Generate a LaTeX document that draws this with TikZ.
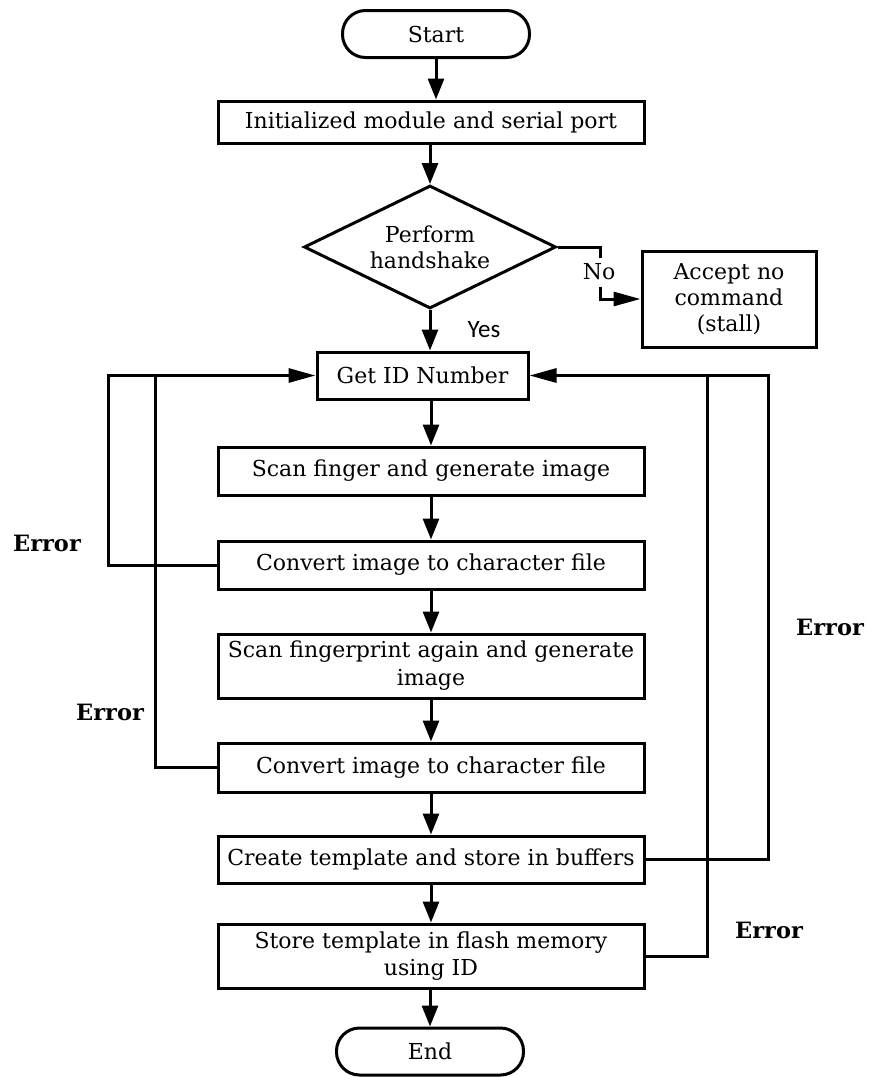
\documentclass[tikz,border=0pt]{standalone}
\usepackage{fontspec}
\setmainfont{DejaVu Serif}
\newfontfamily\yesfont{Carlito}
\usetikzlibrary{shapes.geometric,arrows.meta}
\begin{document}
\begin{tikzpicture}[x=1pt,y=-1pt,
 base/.style={draw=black, line width=3pt, align=center, inner sep=0pt, font=\fontsize{22}{26}\selectfont},
 procbox/.style={base, rectangle, minimum width=426pt},
 term/.style={base, rectangle, rounded corners=23pt, minimum width=187pt, minimum height=47pt},
 decision/.style={base, diamond, aspect=2, minimum width=252pt, minimum height=123pt},
 flow/.style={line width=3pt},
 varrow/.style={flow, -{Triangle[length=21pt,width=16pt]}},
 harrow/.style={flow, -{Triangle[length=27pt,width=14pt]}},
 errlabel/.style={font=\bfseries\fontsize{22.5}{26}\selectfont},
 lbl/.style={font=\fontsize{22}{26}\selectfont},
]
\useasboundingbox[fill=white] (0,0) rectangle (869,1077);

\node[term] (start) at (436,34) {Start};
\node[procbox, minimum height=42pt] (init) at (431,122) {Initialized module and serial port};
\node[decision] (hs) at (430,247) {Perform\\handshake};
\node[base, rectangle, minimum width=174pt, minimum height=96pt] (accept) at (729,299) {Accept no\\command\\(stall)};
\node[procbox, minimum width=211pt, minimum height=47pt] (getid) at (422.5,375.5) {Get ID Number};
\node[procbox, minimum height=48pt] (scan1) at (431,471) {Scan finger and generate image};
\node[procbox, minimum height=48pt] (conv1) at (431,565) {Convert image to character file};
\node[procbox, minimum height=64pt, font=\fontsize{22}{28}\selectfont] (scan2) at (431,666) {Scan fingerprint again and generate\\image};
\node[procbox, minimum height=49pt] (conv2) at (431,767.5) {Convert image to character file};
\node[procbox, minimum height=47pt] (create) at (431,859.5) {Create template and store in buffers};
\node[procbox, minimum height=64pt, font=\fontsize{22}{27}\selectfont] (store) at (431,956) {Store template in flash memory\\using ID};
\node[term] (end) at (430,1051.5) {End};

\draw[varrow] (start.south) -- (start.south |- init.north);
\draw[varrow] (init.south -| hs.north) -- (hs.north);
\draw[varrow] (hs.south) -- (hs.south |- getid.north);
\draw[varrow] (getid.south -| scan1.north) -- (scan1.north);
\draw[varrow] (scan1.south) -- (conv1.north);
\draw[varrow] (conv1.south) -- (scan2.north);
\draw[varrow] (scan2.south) -- (conv2.north);
\draw[varrow] (conv2.south) -- (create.north);
\draw[varrow] (create.south) -- (store.north);
\draw[varrow] (store.south -| end.north) -- (end.north);

\coordinate (n1) at (600,258);
\coordinate (n2) at (600,287);
\draw[flow] (hs.east) -| (n1);
\draw[harrow] (n2) |- (accept.west);
\node[lbl] (nolab) at (599,272) {No};
\node[font=\yesfont\fontsize{25}{28}\selectfont] (yes) at (484,330) {Yes};

\coordinate (l1) at (108,375.5);
\coordinate (l2) at (155,375.5);
\coordinate (r1) at (768,375.5);
\coordinate (r2) at (707,375.5);
\draw[harrow] (conv1.west) -| (l1) -- (getid.west);
\draw[flow] (conv2.west) -| (l2);
\draw[harrow] (create.east) -| (r1) -- (getid.east);
\draw[flow] (store.east) -| (r2);

\node[errlabel] (e1) at (47,543) {Error};
\node[errlabel] (e2) at (110,712) {Error};
\node[errlabel] (e3) at (830,627) {Error};
\node[errlabel] (e4) at (769,930) {Error};
\end{tikzpicture}
\end{document}
